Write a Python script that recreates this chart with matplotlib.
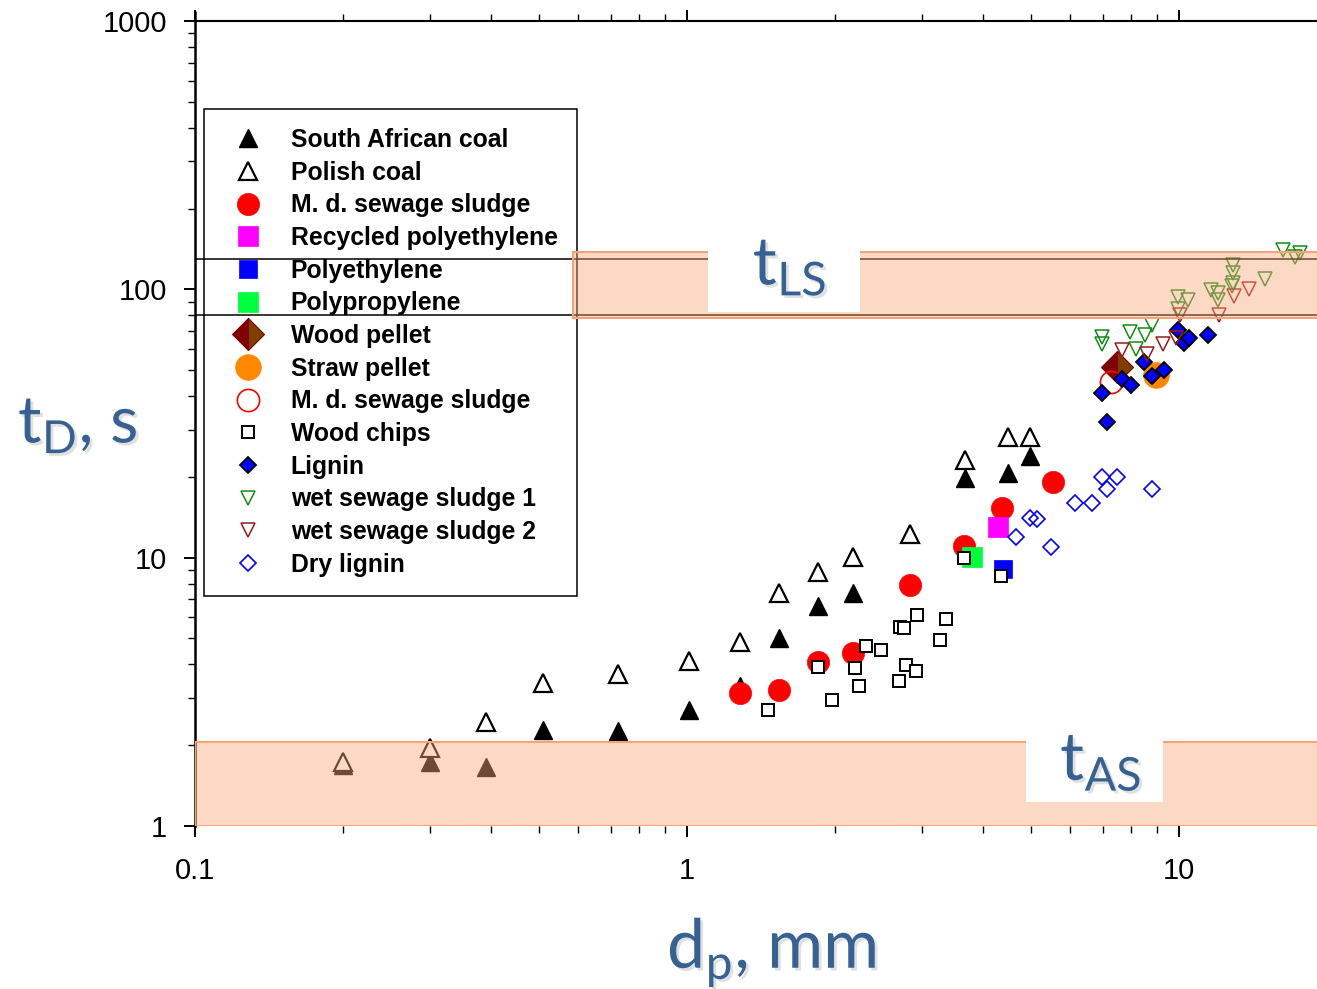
import numpy as np
import matplotlib
matplotlib.use("Agg")
import matplotlib.pyplot as plt
import matplotlib.patheffects as pe
from matplotlib.patches import Rectangle
from matplotlib.ticker import FuncFormatter, LogLocator, NullFormatter

plt.rcParams['font.family'] = ['Liberation Sans', 'DejaVu Sans']
plt.rcParams['mathtext.fontset'] = 'custom'
plt.rcParams['mathtext.rm'] = 'Lato'

# --- data (d_p in mm, t_D in s) ---
sa_x = [0.2, 0.3, 0.39, 0.51, 0.725, 1.01, 1.28, 1.54, 1.85, 2.17, 3.67, 4.49, 4.98]
sa_y = [1.69, 1.73, 1.66, 2.28, 2.26, 2.70, 3.32, 5.0, 6.6, 7.4, 19.8, 20.7, 23.9]

pc_x = [0.2, 0.3, 0.39, 0.51, 0.725, 1.01, 1.28, 1.54, 1.85, 2.17, 2.84, 3.67, 4.49, 4.98]
pc_y = [1.73, 1.95, 2.44, 3.41, 3.68, 4.12, 4.84, 7.38, 8.84, 10.05, 12.3, 23.1, 28.2, 28.2]

mds_x = [1.28, 1.54, 1.85, 2.17, 2.84, 3.66, 4.37, 5.54]
mds_y = [3.13, 3.21, 4.08, 4.41, 7.9, 11.1, 15.3, 19.1]

rpe_x, rpe_y = [4.29], [13.0]
pe_x, pe_y = [4.39], [9.07]
pp_x, pp_y = [3.8], [10.05]

wp_x, wp_y = [7.48], [51.3]
sp_x, sp_y = [8.98], [47.9]
mds2_x, mds2_y = [7.27], [45.1]

wc_x = [1.46, 1.85, 1.97, 2.19, 2.24, 2.31, 2.48, 2.70, 2.71, 2.76, 2.79, 2.92, 2.93,
        3.27, 3.36, 3.66, 4.34]
wc_y = [2.70, 3.91, 2.95, 3.88, 3.32, 4.69, 4.53, 3.47, 5.51, 5.45, 3.98, 3.78, 6.11,
        4.93, 5.9, 10.0, 8.54]

lg_x = [6.97, 7.14, 7.66, 7.99, 8.49, 8.82, 9.33, 9.95, 10.24, 10.48, 11.45]
lg_y = [41.1, 32.0, 46.3, 44.0, 53.6, 47.5, 50.0, 70.5, 63.0, 65.8, 67.6]

ws1_x = [6.97, 6.97, 7.95, 8.52, 8.82, 8.18, 9.95, 10.43, 9.95, 11.6, 12.0, 12.0,
         12.9, 12.9, 12.9, 12.8, 14.96, 16.3, 17.2, 17.6]
ws1_y = [66.4, 62.6, 69.3, 67.6, 73.6, 59.9, 93.6, 91.2, 84.5, 99.4, 96.9, 91.2,
         123, 115, 106, 103, 109, 140, 132, 137]

ws2_x = [7.66, 8.61, 9.27, 9.86, 10.05, 12.06, 12.95, 13.87]
ws2_y = [59.4, 57.4, 62.5, 65.8, 80.2, 80.2, 94.4, 100]

dl_x = [4.66, 4.98, 5.15, 5.49, 6.15, 6.66, 6.97, 7.48, 7.14, 8.82]
dl_y = [11.9, 14.05, 13.9, 10.96, 16.0, 16.0, 20.0, 20.0, 18.0, 18.0]

# time-scale bands and reference lines
t_as = (1.0, 2.05)
t_ls = (78, 138)
t_ls_start = 0.586
ref_lines = [130, 80]

W, H = 1317, 989
fig = plt.figure(figsize=(W / 100, H / 100), dpi=100)
ax = fig.add_axes([195 / W, 1 - 826 / H, (1327.2 - 195) / W, (826 - 21) / H])
ax.set_xscale('log')
ax.set_yscale('log')
ax.set_xlim(0.1, 20)
ax.set_ylim(1, 1000)

ax.plot(sa_x, sa_y, ls='none', marker='^', ms=13.5, mfc='black', mec='black', mew=1,
        label='South African coal')
ax.plot(pc_x, pc_y, ls='none', marker='^', ms=13, mfc='white', mec='black', mew=1.6,
        label='Polish coal')
ax.plot(mds_x, mds_y, ls='none', marker='o', ms=16, mfc='#ff0000', mec='#ff0000', mew=0.5,
        label='M. d. sewage sludge')
ax.plot(rpe_x, rpe_y, ls='none', marker='s', ms=15, mfc='#ff00ff', mec='#ff00ff', mew=0.5,
        label='Recycled polyethylene')
ax.plot(pe_x, pe_y, ls='none', marker='s', ms=13.5, mfc='#0000ff', mec='#0000ff', mew=0.5,
        label='Polyethylene')
ax.plot(pp_x, pp_y, ls='none', marker='s', ms=14, mfc='#00ff3c', mec='#00ff3c', mew=0.5,
        label='Polypropylene')
ax.plot(wp_x, wp_y, ls='none', marker='D', ms=16, fillstyle='left', mfc='#800000',
        markerfacecoloralt='#7f3f00', mec='#800000', mew=0.8, label='Wood pellet')
ax.plot(sp_x, sp_y, ls='none', marker='o', ms=18.5, mfc='#ff8800', mec='#ff8800', mew=0.5,
        label='Straw pellet')
ax.plot(mds2_x, mds2_y, ls='none', marker='o', ms=16, mfc='none', mec='#ff0000', mew=1.2,
        label='M. d. sewage sludge')
ax.plot(wc_x, wc_y, ls='none', marker='s', ms=8.5, mfc='white', mec='black', mew=1.4,
        label='Wood chips')
ax.plot(lg_x, lg_y, ls='none', marker='D', ms=8.5, mfc='#0000ff', mec='black', mew=1.3,
        label='Lignin')
ax.plot(ws1_x, ws1_y, ls='none', marker='v', ms=10.5, mfc='none', mec='#128c12', mew=1.1,
        label='wet sewage sludge 1')
ax.plot(ws2_x, ws2_y, ls='none', marker='v', ms=10.5, mfc='none', mec='#9a1a1a', mew=1.1,
        label='wet sewage sludge 2')
ax.plot(dl_x, dl_y, ls='none', marker='D', ms=8.5, mfc='none', mec='#0000ff', mew=1.2,
        label='Dry lignin')

for yv in ref_lines:
    ax.axhline(yv, color='black', lw=1.1, zorder=6)

band_face = (0.98, 0.667, 0.49, 0.44)
band_edge = '#f5a479'
ax.add_patch(Rectangle((0.1, t_as[0]), 20 - 0.1, t_as[1] - t_as[0], fc=band_face,
                       ec=band_edge, lw=1.5, zorder=7))
ax.add_patch(Rectangle((t_ls_start, t_ls[0]), 20 - t_ls_start, t_ls[1] - t_ls[0], fc=band_face,
                       ec=band_edge, lw=1.5, zorder=7))

# white label boxes
ax.add_patch(Rectangle((1.103, 82.5), 2.247 - 1.103, 145 - 82.5, fc='white', ec='none', zorder=8))
ax.add_patch(Rectangle((4.89, 1.228), 9.28 - 4.89, 2.1 - 1.228, fc='white', ec='none', zorder=8))

blue = '#376193'
shadow = [pe.SimplePatchShadow(offset=(2, -2), shadow_rgbFace='black', alpha=0.12),
          pe.Normal()]
ax.text(1.36, 103.8, r't$_\mathregular{LS}$', family='Lato', fontsize=48, color=blue,
        ha='left', va='baseline', zorder=9, path_effects=shadow)
ax.text(5.73, 1.48, r't$_\mathregular{AS}$', family='Lato', fontsize=48, color=blue,
        ha='left', va='baseline', zorder=9, path_effects=shadow)

fig.text(18 / W, 1 - 443 / H, r't$_\mathregular{D}$, s', family='Lato', fontsize=47,
         color=blue, ha='left', va='baseline', path_effects=shadow)
fig.text(667 / W, 1 - 968 / H, r'd$_\mathregular{p}$, mm', family='Lato', fontsize=49,
         color=blue, ha='left', va='baseline', path_effects=shadow)

# axes styling
ax.spines['right'].set_visible(False)
ax.spines['bottom'].set_visible(False)
ax.spines['left'].set_linewidth(1.8)
ax.spines['top'].set_linewidth(1.5)
ax.plot([0, 0], [1, 1.013], transform=ax.transAxes, clip_on=False, color='black',
        lw=1.8, solid_capstyle='butt')

ax.xaxis.set_major_locator(LogLocator(base=10))
ax.xaxis.set_minor_locator(LogLocator(base=10, subs=np.arange(2, 10)))
ax.yaxis.set_major_locator(LogLocator(base=10))
ax.yaxis.set_minor_locator(LogLocator(base=10, subs=np.arange(2, 10)))
fmt = FuncFormatter(lambda v, p: '%g' % v)
ax.xaxis.set_major_formatter(fmt)
ax.yaxis.set_major_formatter(fmt)
ax.xaxis.set_minor_formatter(NullFormatter())
ax.yaxis.set_minor_formatter(NullFormatter())

ax.tick_params(axis='x', which='both', top=True, bottom=True, direction='out')
ax.tick_params(axis='y', which='both', left=True, right=False, direction='out')
ax.tick_params(which='major', length=8, width=1.4, labelsize=21)
ax.tick_params(which='minor', length=5, width=1.0)
ax.tick_params(axis='x', which='major', pad=14)
ax.tick_params(axis='y', which='major', pad=12)

leg = ax.legend(loc='upper left', bbox_to_anchor=(204 / W, 1 - 109 / H),
                bbox_transform=fig.transFigure, borderaxespad=0, numpoints=1,
                fancybox=False, framealpha=1, edgecolor='black',
                prop={'family': 'Liberation Sans', 'weight': 'bold', 'size': 17.8},
                handlelength=2.0, handletextpad=0.74, borderpad=0.77, labelspacing=0.35)
leg.get_frame().set_linewidth(1.1)
leg.set_zorder(5)

fig.savefig('out.png', dpi=100)
